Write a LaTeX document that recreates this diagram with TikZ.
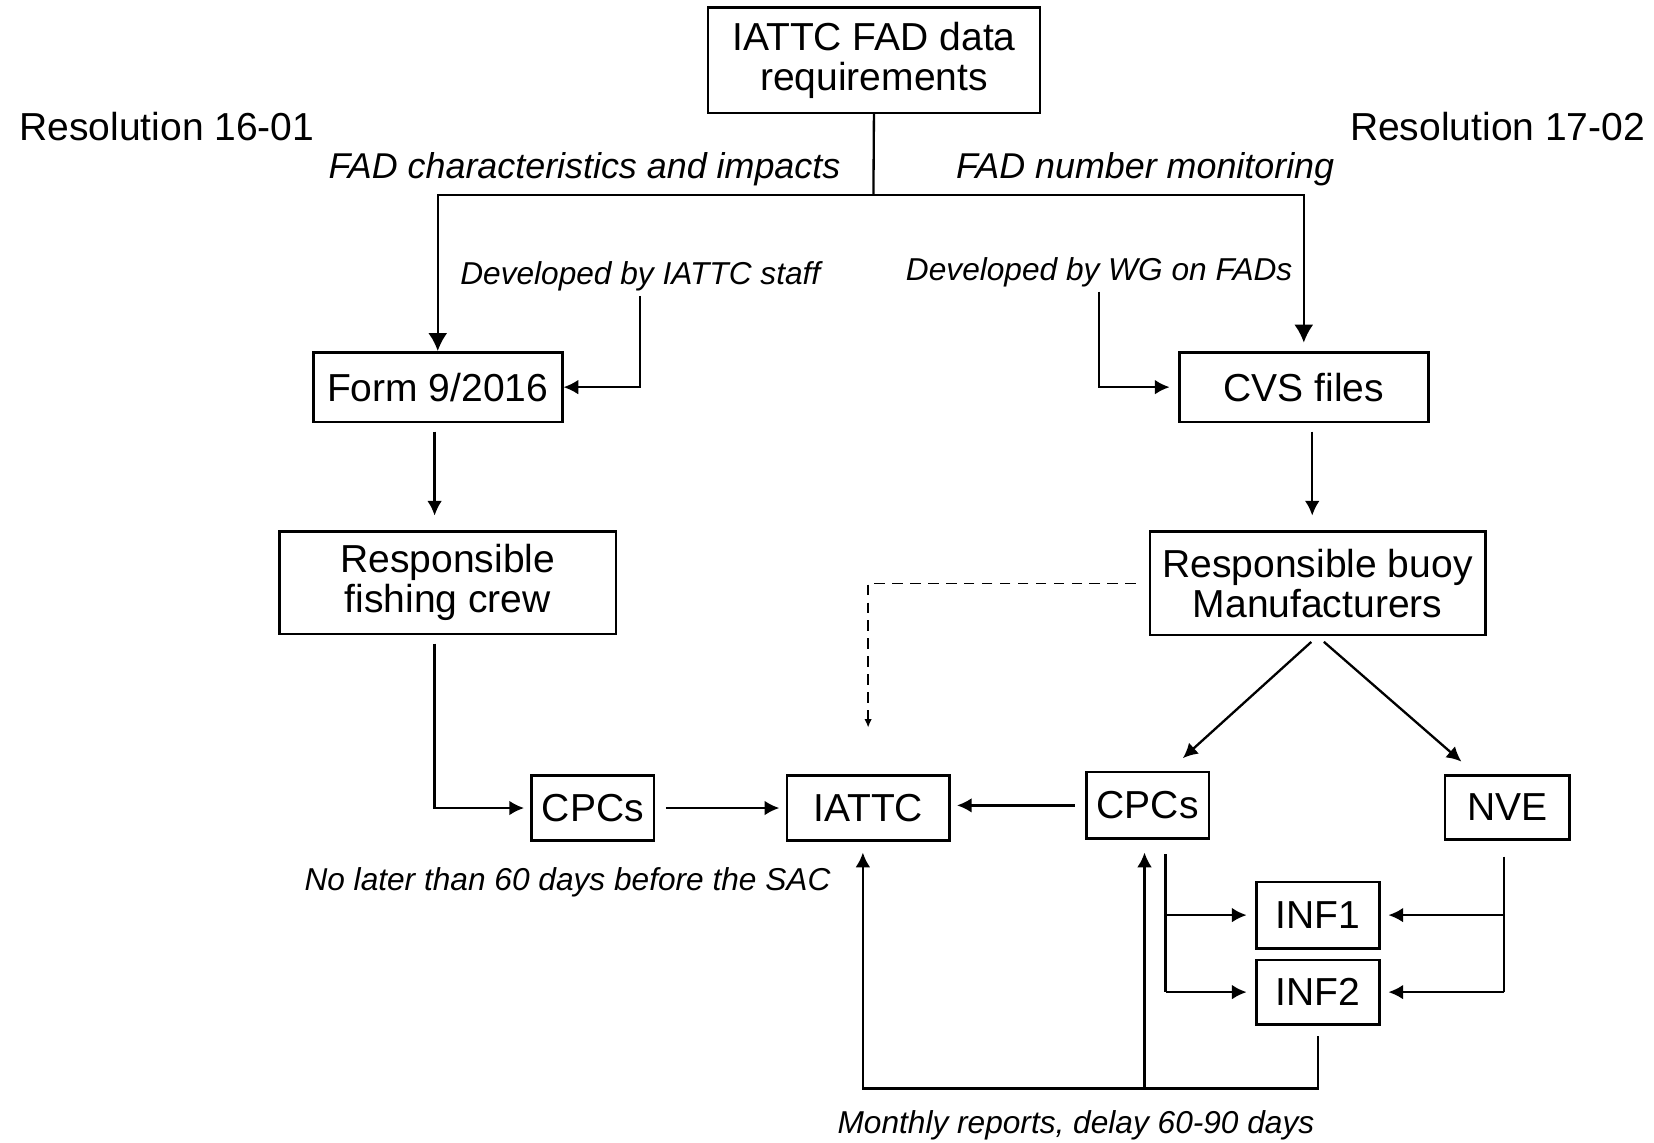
\documentclass[tikz,border=0pt]{standalone}
\usepackage{fontspec}
\setmainfont{Liberation Sans}
\usetikzlibrary{arrows.meta}

\begin{document}
\begin{tikzpicture}[x=0.5pt, y=-0.5pt,
      box/.style={draw, line width=1.2pt, inner sep=0pt, align=center, font=\fontsize{18.5}{19}\selectfont},
      title/.style={inner sep=0pt, font=\fontsize{18.5}{19}\selectfont},
      branch/.style={inner sep=0pt, font=\fontsize{17}{20}\selectfont\itshape},
      lbl/.style={inner sep=2pt, font=\fontsize{15}{18}\selectfont\itshape},
      link/.style={line width=1.1pt},
      arr/.style={line width=1.1pt, -{Latex[length=7pt,width=7pt]}},
      bigarr/.style={line width=1.1pt, -{Latex[length=8.5pt,width=9pt]}}
    ]
    \useasboundingbox (0,0) rectangle (1568,1083);

    % Top box and the two resolutions
    \node[box, minimum width=157.5pt, minimum height=50pt] (req) at (828.5,57) {IATTC FAD data\\requirements};
    \node[title, anchor=west] (res16) at (18,120) {Resolution 16-01};
    \node[title, anchor=east] (res17) at (1560,120) {Resolution 17-02};
    \node[branch, anchor=east] (impacts) at (797,160) {FAD characteristics and impacts};
    \node[branch, anchor=west] (monitor) at (906,160) {FAD number monitoring};
    \coordinate (split) at (828,185);

    % Forms
    \node[box, minimum width=118pt, minimum height=33pt] (form) at (415,367) {Form 9/2016};
    \node[box, minimum width=118pt, minimum height=33pt] (cvs) at (1236,367) {CVS files};
    \node[lbl] (devL) at (607,262) {Developed by IATTC staff};
    \node[lbl] (devR) at (1042,258) {Developed by WG on FADs};

    % Responsible parties
    \node[box, minimum width=159.5pt, minimum height=48.5pt] (crew) at (424.5,552.5) {Responsible\\fishing crew};
    \node[box, minimum width=159pt, minimum height=49pt] (buoy) at (1249,553) {Responsible buoy\\Manufacturers};

    % Receivers
    \node[box, minimum width=58pt, minimum height=31pt] (cpcL) at (562,766) {CPCs};
    \node[box, minimum width=77pt, minimum height=31pt] (iattc) at (823,766) {IATTC};
    \node[box, minimum width=58pt, minimum height=31.5pt] (cpcR) at (1088,763.5) {CPCs};
    \node[box, minimum width=59pt, minimum height=30.5pt] (nve) at (1429,765.5) {NVE};
    \node[box, minimum width=58.5pt, minimum height=31.5pt] (inf1) at (1249.5,867.5) {INF1};
    \node[box, minimum width=58.5pt, minimum height=30.5pt] (inf2) at (1249.5,940.5) {INF2};

    \node[lbl] (sac) at (538,836) {No later than 60 days before the SAC};
    \node[lbl] (monthly) at (1020,1067) {Monthly reports, delay 60-90 days};
    \coordinate (base) at (0,1032);
    \coordinate (busL) at (1105,810);
    \coordinate (busR) at (1426,812);

    % Connectors
    \draw[link] (req.south) -- (split);
    \draw[bigarr] (split) -| (form.north);
    \draw[bigarr, shorten >=4pt] (split) -| (cvs.north);
    \draw[arr] (devL.south) |- (form.east);
    \draw[arr, shorten >=4pt] (devR.south) |- (cvs.west);
    \draw[arr, shorten <=4pt, shorten >=7pt] ([xshift=-1.5pt]form.south) -- ([xshift=-1.5pt]form.south |- crew.north);
    \draw[arr, shorten <=4pt, shorten >=7pt] ([xshift=4pt]cvs.south) -- ([xshift=4pt]cvs.south |- buoy.north);
    \draw[arr, shorten <=4pt, shorten >=3pt] ([xshift=-6.25pt]crew.south) |- (cpcL.west);
    \draw[arr, shorten <=5pt, shorten >=3pt] (cpcL) -- (iattc);
    \draw[arr, shorten <=5pt, shorten >=3pt] (cpcR.west) -- (cpcR.west -| iattc.east);
    \draw[dash pattern=on 5pt off 3.5pt, line width=0.8pt, -{Latex[length=4pt,width=3.5pt]}, shorten <=6pt, shorten >=22pt] (buoy.west) -| (iattc.north);
    \draw[arr, shorten <=4pt, shorten >=9pt] (buoy.south) -- ([xshift=10pt]cpcR.north);
    \draw[arr, shorten <=4pt, shorten >=9pt] (buoy.south) -- ([xshift=-15pt]nve.north);

    \draw[link] (busL) -- (busL |- inf2);
    \draw[link] (busR) -- (busR |- inf2);
    \foreach \n in {inf1,inf2} {
      \draw[arr, shorten >=4pt] (busL |- \n) -- (\n.west);
      \draw[arr, shorten >=3.5pt] (busR |- \n) -- (\n.east);
    }

    \draw[arr, shorten <=5pt, shorten >=5pt] (inf2.south) |- ([xshift=-2.5pt]iattc.south |- base) -- ([xshift=-2.5pt]iattc.south);
    \draw[arr, shorten >=6pt] ([xshift=-1.5pt]cpcR.south |- base) -- ([xshift=-1.5pt]cpcR.south);

\end{tikzpicture}
\end{document}
